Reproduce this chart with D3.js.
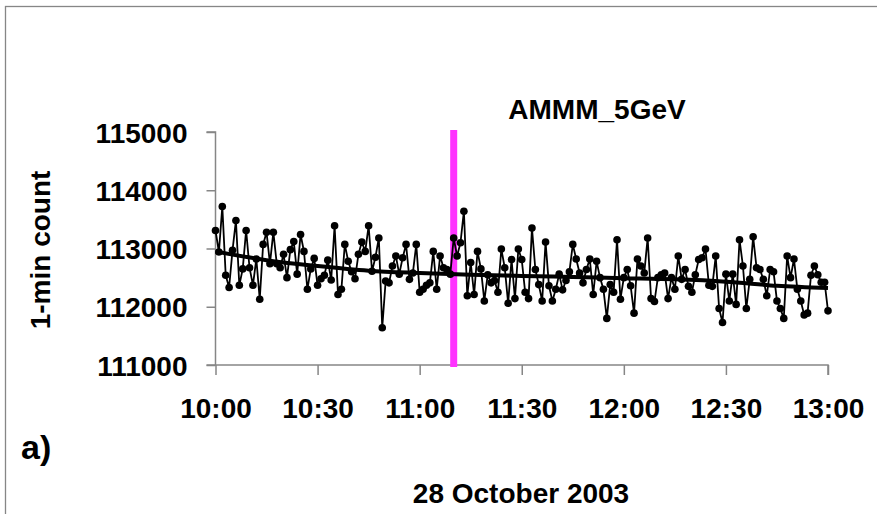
<!DOCTYPE html>
<html>
<head>
<meta charset="utf-8">
<script src="https://cdn.jsdelivr.net/npm/d3@7"></script>
<style>
  html, body { margin: 0; padding: 0; background: #fff; }
  svg text { font-family: "Liberation Sans", Arial, sans-serif; font-weight: bold; fill: #000; }
</style>
</head>
<body>
<svg id="chart" width="877" height="514"></svg>
<script>
(function () {
  "use strict";

  // 1-min counts, 10:00 .. 13:00 (181 samples)
  var counts = [
    113310, 112940, 113720, 112540, 112330, 112970, 113480, 112370, 112650, 113310,
    112670, 112370, 112820, 112130, 113070, 113280, 112740, 113280, 112740, 112670,
    112900, 112500, 112980, 113120, 112560, 113240,
    112950, 112300, 112650, 112830, 112370, 112480, 112540, 112800, 112460, 113390,
    112210, 112300, 113070, 112780, 112600, 112480, 112900, 113110, 112950, 113390,
    112610, 112850, 113180, 111640,
    112440, 112410, 112700, 112870, 112560, 112840, 113070, 112470, 112580, 113070,
    112250, 112300, 112370, 112410, 112950, 112300, 112870, 112670, 112640, 112560,
    113180, 112870, 113100, 113640, 112190,
    112760, 112210, 112950, 112650, 112100, 112550, 112410, 112450, 112250, 112990,
    112670, 112060, 112810, 112140, 112990, 112810, 112250, 112140, 113350, 112640,
    112380, 112100, 113110, 112360, 112100,
    112300, 112560, 112290, 112450, 112600, 113070, 112820, 112580, 112410, 112640,
    112820, 112210, 112780, 112500, 112300, 111800, 112380, 112250, 113150, 112130,
    112500, 112640, 112360, 111890, 112820,
    112700, 112580, 113180, 112140, 112090, 112500, 112550, 112580, 112140, 112500,
    112300, 112870, 112470, 112640, 112350, 112250, 112550, 112810, 112840, 112990,
    112370, 112350, 112870, 111970, 111730,
    112560, 112100, 112560, 112040, 113150, 112700, 111970, 112470, 113200, 112670,
    112640, 112470, 112190, 112640, 112600, 112100, 111970, 111800, 112870, 112500,
    112820, 112300, 112100, 111860, 111890, 112540, 112700, 112550, 112420, 112420,
    111930
  ];

  // smoothed trend (minute, count)
  var trendMinutes = [0, 15, 30, 45, 60, 75, 90, 105, 120, 135, 150, 165, 180];
  var trendCounts = [112950, 112800, 112700, 112620, 112580, 112550, 112530, 112510, 112490, 112470, 112430, 112360, 112320];

  var xTickMinutes = [0, 30, 60, 90, 120, 150, 180];
  var xTickLabels = ["10:00", "10:30", "11:00", "11:30", "12:00", "12:30", "13:00"];
  var yTicks = [111000, 112000, 113000, 114000, 115000];
  var markerMinute = 70; // 11:10

  var svg = d3.select("#chart");
  var x = d3.scaleLinear().domain([0, 180]).range([215.5, 828]);
  var y = d3.scaleLinear().domain([111000, 115000]).range([365, 132]);
  var axisGrey = "#868686";

  // outer frame (runs off the right and bottom edges)
  svg.append("rect")
    .attr("x", 5.5).attr("y", 6.5)
    .attr("width", 900).attr("height", 540)
    .attr("fill", "none")
    .attr("stroke", axisGrey)
    .attr("stroke-width", 1.3);

  var yAxis = svg.append("g")
    .attr("transform", "translate(" + x(0) + ",0)")
    .call(d3.axisLeft(y).tickValues(yTicks).tickSize(9).tickPadding(19).tickFormat(d3.format("d")));
  yAxis.selectAll("path, line").attr("stroke", axisGrey).attr("stroke-width", 1.5);
  yAxis.select(".domain").attr("d", "M-9," + y(115000) + "H0V" + y(111000) + "H-9");
  yAxis.selectAll("text").style("font-size", "28px").attr("dy", "0.36em");

  var xAxis = svg.append("g")
    .attr("transform", "translate(0," + y(111000) + ")")
    .call(d3.axisBottom(x).tickValues(xTickMinutes).tickSize(10).tickPadding(23)
      .tickFormat(function (d, i) { return xTickLabels[i]; }));
  xAxis.selectAll("path, line").attr("stroke", axisGrey).attr("stroke-width", 1.5);
  xAxis.select(".domain").attr("d", "M" + x(0) + ",0H" + x(180) + "V10");
  xAxis.selectAll("text").style("font-size", "28px");

  // event marker
  svg.append("line")
    .attr("x1", x(markerMinute)).attr("x2", x(markerMinute))
    .attr("y1", y(115000) - 2).attr("y2", y(111000) + 2)
    .attr("stroke", "#ff33ff")
    .attr("stroke-width", 7);

  var line = d3.line()
    .x(function (d, i) { return x(i); })
    .y(function (d) { return y(d); });

  svg.append("path")
    .datum(counts)
    .attr("d", line)
    .attr("fill", "none")
    .attr("stroke", "#000")
    .attr("stroke-width", 1.8);

  svg.append("g").selectAll("circle")
    .data(counts)
    .join("circle")
    .attr("cx", function (d, i) { return x(i); })
    .attr("cy", function (d) { return y(d); })
    .attr("r", 3.8)
    .attr("fill", "#000");

  var trend = d3.line()
    .curve(d3.curveMonotoneX)
    .x(function (d, i) { return x(trendMinutes[i]); })
    .y(function (d) { return y(d); });

  svg.append("path")
    .datum(trendCounts)
    .attr("d", trend)
    .attr("fill", "none")
    .attr("stroke", "#000")
    .attr("stroke-width", 4);

  svg.append("text")
    .attr("x", 597).attr("y", 119)
    .attr("text-anchor", "middle")
    .style("font-size", "28px")
    .text("AMMM_5GeV");

  svg.append("text")
    .attr("transform", "translate(50,250) rotate(-90)")
    .attr("text-anchor", "middle")
    .style("font-size", "28px")
    .text("1-min count");

  svg.append("text")
    .attr("x", 21).attr("y", 459)
    .style("font-size", "34px")
    .text("a)");

  svg.append("text")
    .attr("x", 521).attr("y", 503)
    .attr("text-anchor", "middle")
    .style("font-size", "28px")
    .text("28 October 2003");
})();
</script>
</body>
</html>
